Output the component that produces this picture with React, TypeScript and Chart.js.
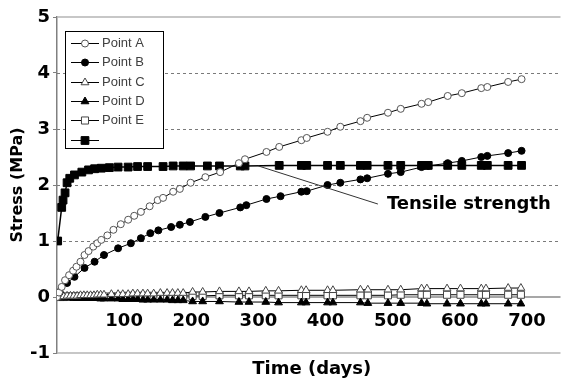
import React, { useEffect, useRef } from 'react';
import { Chart, registerables } from 'chart.js';

Chart.register(...registerables);

// ---- data ----
const daysA = [0, 3, 7, 12, 18, 24, 29, 35, 41, 47, 54, 60, 66, 75, 84, 95, 106, 115, 125, 138, 150, 158, 173, 183, 199, 221, 243, 271, 280, 312, 331, 364, 372, 403, 422, 452, 462, 493, 512, 543, 553, 582, 603, 632, 641, 672, 692];
const stressA = [0, 0.08, 0.18, 0.3, 0.39, 0.47, 0.54, 0.63, 0.75, 0.82, 0.9, 0.96, 1.02, 1.1, 1.2, 1.3, 1.38, 1.45, 1.52, 1.62, 1.73, 1.77, 1.88, 1.93, 2.04, 2.14, 2.23, 2.39, 2.46, 2.59, 2.68, 2.8, 2.84, 2.95, 3.04, 3.14, 3.2, 3.29, 3.36, 3.45, 3.48, 3.59, 3.64, 3.73, 3.75, 3.84, 3.89];

const daysB = [0, 4, 15, 26, 41, 56, 70, 91, 110, 125, 139, 151, 170, 183, 198, 221, 242, 273, 282, 312, 333, 364, 372, 403, 422, 452, 462, 493, 512, 543, 553, 582, 603, 632, 641, 672, 692];
const stressB = [0, 0.09, 0.25, 0.36, 0.52, 0.63, 0.75, 0.87, 0.96, 1.05, 1.14, 1.19, 1.25, 1.29, 1.34, 1.43, 1.5, 1.6, 1.64, 1.75, 1.8, 1.88, 1.89, 2.0, 2.04, 2.1, 2.12, 2.2, 2.23, 2.32, 2.34, 2.39, 2.43, 2.5, 2.52, 2.57, 2.61];

const daysCDE = [0, 5, 10, 15, 20, 25, 30, 35, 40, 45, 50, 55, 60, 65, 70, 81, 91, 98, 106, 113, 120, 128, 135, 144, 154, 164, 172, 180, 188, 202, 217, 242, 271, 286, 311, 330, 364, 371, 403, 411, 452, 463, 493, 512, 543, 551, 581, 601, 632, 639, 672, 691];
const stressC = [0, 0.01, 0.01, 0.02, 0.02, 0.02, 0.02, 0.03, 0.03, 0.03, 0.03, 0.03, 0.04, 0.04, 0.04, 0.05, 0.05, 0.05, 0.05, 0.06, 0.06, 0.06, 0.06, 0.06, 0.07, 0.07, 0.07, 0.07, 0.07, 0.09, 0.09, 0.1, 0.1, 0.1, 0.11, 0.11, 0.12, 0.12, 0.12, 0.12, 0.13, 0.13, 0.13, 0.13, 0.15, 0.15, 0.15, 0.15, 0.15, 0.15, 0.16, 0.16];
const stressD = [0, -0.01, -0.01, -0.01, -0.01, -0.02, -0.02, -0.02, -0.02, -0.02, -0.02, -0.02, -0.02, -0.03, -0.03, -0.03, -0.03, -0.04, -0.04, -0.04, -0.04, -0.05, -0.05, -0.05, -0.05, -0.05, -0.06, -0.06, -0.06, -0.08, -0.08, -0.08, -0.09, -0.09, -0.09, -0.1, -0.1, -0.1, -0.1, -0.1, -0.1, -0.11, -0.11, -0.11, -0.11, -0.12, -0.12, -0.12, -0.12, -0.12, -0.12, -0.12];
const stressE = [0, 0, 0, 0.01, 0.01, 0.01, 0.01, 0.01, 0.01, 0.01, 0.01, 0.01, 0.01, 0.01, 0.01, 0.01, 0.01, 0.02, 0.02, 0.02, 0.02, 0.02, 0.02, 0.02, 0.02, 0.02, 0.02, 0.02, 0.02, 0.02, 0.02, 0.03, 0.03, 0.03, 0.03, 0.03, 0.03, 0.03, 0.03, 0.03, 0.03, 0.03, 0.03, 0.04, 0.04, 0.04, 0.04, 0.04, 0.04, 0.04, 0.04, 0.04];

const daysT = [1, 7, 9, 12, 15, 19, 26, 37, 47, 56, 66, 78, 91, 106, 120, 135, 158, 173, 188, 199, 224, 242, 273, 280, 331, 364, 372, 403, 422, 452, 462, 493, 512, 543, 553, 582, 603, 632, 641, 672, 692];
const stressT = [1.0, 1.6, 1.73, 1.86, 2.04, 2.12, 2.18, 2.23, 2.27, 2.29, 2.3, 2.31, 2.32, 2.32, 2.33, 2.33, 2.33, 2.34, 2.34, 2.34, 2.34, 2.34, 2.34, 2.34, 2.35, 2.35, 2.35, 2.35, 2.35, 2.35, 2.35, 2.35, 2.35, 2.35, 2.35, 2.35, 2.35, 2.35, 2.35, 2.35, 2.35];

const seriesLabels = ['Point A', 'Point B', 'Point C', 'Point D', 'Point E', ''];
const xTickValues = [100, 200, 300, 400, 500, 600, 700];
const dashedGridValues = [1, 2, 3, 4];
const annotationText = 'Tensile strength';
const annotationFrom = { x: 300, y: 2.34 };
const annotationTo = { x: 478, y: 1.66 };
const xTitle = 'Time (days)';
const yTitle = 'Stress (MPa)';

const BOLD = '"DejaVu Sans", "Open Sans", sans-serif';

const pts = (xs: number[], ys: number[]) => xs.map((x, i) => ({ x, y: ys[i] }));

type Mk = { style: string; fill: string; stroke: string; r: number };
const markers: Mk[] = [
  { style: 'circle', fill: '#ffffff', stroke: '#555555', r: 3.5 },
  { style: 'circle', fill: '#000000', stroke: '#000000', r: 3.5 },
  { style: 'triangle', fill: '#ffffff', stroke: '#444444', r: 4.5 },
  { style: 'triangle', fill: '#000000', stroke: '#000000', r: 4.5 },
  { style: 'rect', fill: '#ffffff', stroke: '#444444', r: 5 },
  { style: 'rect', fill: '#000000', stroke: '#000000', r: 5.5 },
];

function drawMarker(ctx: CanvasRenderingContext2D, m: Mk, x: number, y: number) {
  ctx.beginPath();
  if (m.style === 'circle') {
    ctx.arc(x, y, m.r, 0, Math.PI * 2);
  } else if (m.style === 'triangle') {
    const r = m.r;
    ctx.moveTo(x, y - r);
    ctx.lineTo(x + r * Math.sin(Math.PI / 3), y + r / 2);
    ctx.lineTo(x - r * Math.sin(Math.PI / 3), y + r / 2);
    ctx.closePath();
  } else {
    const s = m.r * Math.SQRT1_2;
    ctx.rect(x - s, y - s, 2 * s, 2 * s);
  }
  ctx.fillStyle = m.fill;
  ctx.fill();
  ctx.strokeStyle = m.stroke;
  ctx.lineWidth = 1;
  ctx.stroke();
}

const framePlugin = {
  id: 'frame',
  beforeDatasetsDraw(chart: any) {
    const { ctx, chartArea: a, scales } = chart;
    const y = scales.y;
    ctx.save();
    ctx.lineWidth = 1;
    ctx.strokeStyle = '#7a7a7a';
    ctx.setLineDash([3, 3]);
    for (const v of dashedGridValues) {
      const py = Math.round(y.getPixelForValue(v)) + 0.5;
      ctx.beginPath();
      ctx.moveTo(a.left, py);
      ctx.lineTo(a.right, py);
      ctx.stroke();
    }
    ctx.setLineDash([]);
    ctx.strokeStyle = '#b4b4b4';
    ctx.lineWidth = 1.5;
    for (const v of [y.max, y.min]) {
      const py = Math.round(y.getPixelForValue(v));
      ctx.beginPath();
      ctx.moveTo(a.left, py);
      ctx.lineTo(a.right, py);
      ctx.stroke();
    }
    ctx.strokeStyle = '#8a8a8a';
    ctx.lineWidth = 1.5;
    const p0 = Math.round(y.getPixelForValue(0));
    ctx.beginPath();
    ctx.moveTo(a.left, p0);
    ctx.lineTo(a.right, p0);
    ctx.stroke();
    ctx.restore();
  },
  afterDraw(chart: any) {
    const { ctx, chartArea: a, scales } = chart;
    const x = scales.x;
    const y = scales.y;
    ctx.save();
    // annotation
    const x1 = x.getPixelForValue(annotationFrom.x);
    const y1 = y.getPixelForValue(annotationFrom.y);
    const x2 = x.getPixelForValue(annotationTo.x);
    const y2 = y.getPixelForValue(annotationTo.y);
    ctx.strokeStyle = '#333333';
    ctx.lineWidth = 1;
    ctx.beginPath();
    ctx.moveTo(x1, y1);
    ctx.lineTo(x2, y2);
    ctx.stroke();
    ctx.fillStyle = '#000000';
    ctx.font = `bold 18px ${BOLD}`;
    ctx.textAlign = 'left';
    ctx.textBaseline = 'middle';
    ctx.fillText(annotationText, x2 + 9, y2);
    // x title
    ctx.font = `bold 18px ${BOLD}`;
    ctx.textAlign = 'center';
    ctx.fillText(xTitle, (a.left + a.right) / 2 + 3, 369);
    // legend
    const lx = 65.5, ly = 31.5, lw = 98, lh = 117;
    ctx.fillStyle = '#ffffff';
    ctx.fillRect(lx, ly, lw, lh);
    ctx.strokeStyle = '#000000';
    ctx.lineWidth = 1;
    ctx.strokeRect(lx, ly, lw, lh);
    ctx.font = '13px "Liberation Sans", Arial, sans-serif';
    ctx.textAlign = 'left';
    ctx.textBaseline = 'middle';
    chart.data.datasets.forEach((ds: any, i: number) => {
      const cy = Math.round(43 + i * 19.3) + 0.5;
      ctx.strokeStyle = '#000000';
      ctx.lineWidth = 1;
      ctx.beginPath();
      ctx.moveTo(71, cy);
      ctx.lineTo(99, cy);
      ctx.stroke();
      drawMarker(ctx, markers[i], 85, cy);
      ctx.fillStyle = '#404040';
      ctx.fillText(ds.label, 102, cy);
    });
    ctx.restore();
  },
};

export default function App() {
  const ref = useRef<HTMLCanvasElement>(null);
  useEffect(() => {
    const series = [
      pts(daysA, stressA),
      pts(daysB, stressB),
      pts(daysCDE, stressC),
      pts(daysCDE, stressD),
      pts(daysCDE, stressE),
      pts(daysT, stressT),
    ];
    const chart = new Chart(ref.current as HTMLCanvasElement, {
      type: 'line',
      data: {
        datasets: series.map((data, i) => ({
          label: seriesLabels[i],
          data,
          borderColor: '#000000',
          borderWidth: i === 5 ? 1.5 : 1,
          pointStyle: markers[i].style as any,
          pointRadius: markers[i].r,
          pointBackgroundColor: markers[i].fill,
          pointBorderColor: markers[i].stroke,
          pointBorderWidth: 1,
          tension: 0,
          fill: false,
        })),
      },
      options: {
        animation: false,
        responsive: false,
        devicePixelRatio: 1,
        layout: { padding: { top: 17, right: 0, bottom: 30, left: 0 } },
        plugins: { legend: { display: false }, tooltip: { enabled: false }, title: { display: false } },
        scales: {
          x: {
            type: 'linear',
            position: { y: 0 } as any,
            min: 0,
            max: 750,
            afterBuildTicks: (s: any) => {
              s.ticks = xTickValues.map((v) => ({ value: v }));
            },
            grid: { display: false, drawTicks: false },
            border: { display: false },
            ticks: {
              padding: 14,
              color: '#000000',
              font: { family: BOLD, size: 18, weight: 'bold' },
              maxRotation: 0,
              autoSkip: false,
            },
          },
          y: {
            type: 'linear',
            position: 'left',
            min: -1,
            max: 5,
            afterFit: (s: any) => {
              s.width = 57;
            },
            grid: { drawOnChartArea: false, drawTicks: true, tickLength: 4, color: '#808080' },
            border: { display: true, color: '#808080', width: 1.5 },
            ticks: {
              stepSize: 1,
              padding: 3,
              color: '#000000',
              font: { family: BOLD, size: 18, weight: 'bold' },
            },
            title: {
              display: true,
              text: yTitle,
              color: '#000000',
              font: { family: BOLD, size: 16, weight: 'bold' },
              padding: { top: 8, bottom: 0 },
            },
          },
        },
      },
      plugins: [framePlugin],
    });
    return () => chart.destroy();
  }, []);
  return (
    <div style={{ position: 'absolute', left: 0, top: 0, width: 567, height: 383 }}>
      <canvas ref={ref} width={567} height={383} style={{ display: 'block' }} />
    </div>
  );
}
